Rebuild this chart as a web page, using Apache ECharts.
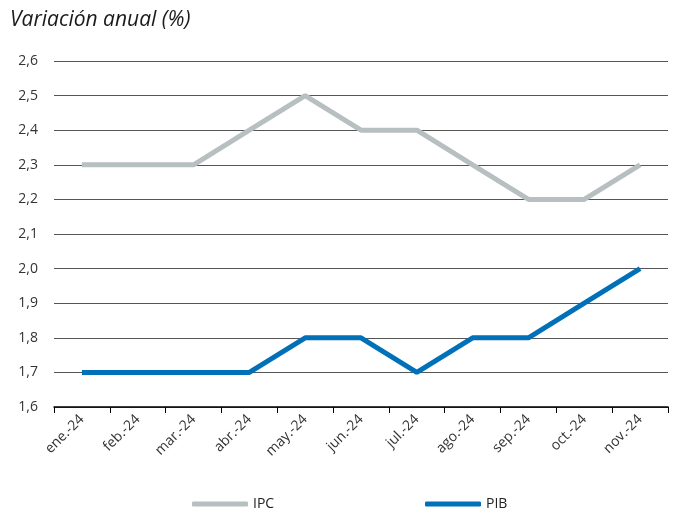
<!DOCTYPE html>
<html><head><meta charset="utf-8">
<script src="https://cdn.jsdelivr.net/npm/echarts@6/dist/echarts.min.js"></script>
<style>html,body{margin:0;padding:0;background:#fff}#c{width:680px;height:511px}</style>
</head><body><div id="c"></div>
<script>
const categories = ['ene.-24','feb.-24','mar.-24','abr.-24','may.-24','jun.-24','jul.-24','ago.-24','sep.-24','oct.-24','nov.-24'];
const ipc = [2.3,2.3,2.3,2.4,2.5,2.4,2.4,2.3,2.2,2.2,2.3];
const pib = [1.7,1.7,1.7,1.7,1.8,1.8,1.7,1.8,1.8,1.9,2.0];
const FONT = '"Open Sans", "Noto Sans", sans-serif';
const chart = echarts.init(document.getElementById('c'), null, {renderer:'canvas'});
chart.setOption({
  animation:false,
  textStyle:{fontFamily:FONT},
  title:{text:'Variación anual (%)', left:5, top:5, textStyle:{fontFamily:FONT, fontStyle:'italic', fontWeight:'normal', fontSize:21, color:'#1a1a1a'}},
  grid:{left:54, right:12, top:61, bottom:104},
  legend:[
    {data:['IPC'], left:187, top:492, itemWidth:56, itemHeight:5, itemGap:10, icon:'roundRect', textStyle:{fontSize:14, color:'#222', fontFamily:FONT}},
    {data:['PIB'], left:420, top:492, itemWidth:56, itemHeight:5, itemGap:10, icon:'roundRect', textStyle:{fontSize:14, color:'#222', fontFamily:FONT}}
  ],
  xAxis:{type:'category', data:categories, boundaryGap:true,
    axisLine:{lineStyle:{color:'#000', width:1.5}},
    axisTick:{show:true, length:6, lineStyle:{color:'#000'}},
    axisLabel:{rotate:45, fontSize:14, color:'#333', margin:10, fontFamily:FONT}},
  yAxis:{type:'value', min:1.6, max:2.6, interval:0.1,
    axisLine:{show:false}, axisTick:{show:false},
    splitLine:{lineStyle:{color:'#555', width:1}},
    axisLabel:{fontSize:14, color:'#333', margin:16, fontFamily:FONT, formatter:v=>v.toFixed(1).replace('.',',')}},
  series:[
    {name:'IPC', type:'line', data:ipc, symbol:'none', lineStyle:{width:5, color:'#b7bfc1'}, itemStyle:{color:'#b7bfc1'}},
    {name:'PIB', type:'line', data:pib, symbol:'none', lineStyle:{width:5, color:'#0070b8'}, itemStyle:{color:'#0070b8'}}
  ]
});
</script></body></html>
